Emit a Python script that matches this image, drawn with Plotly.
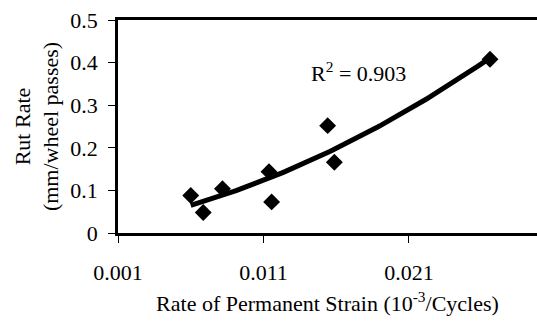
import numpy as np
import plotly.graph_objects as go

# Data
strain_rate = [0.0060, 0.00686, 0.00818, 0.01138, 0.01156, 0.01541, 0.01587, 0.02657]
rut_rate = [0.088, 0.048, 0.104, 0.144, 0.073, 0.252, 0.166, 0.408]
x_ticks = [0.001, 0.011, 0.021]
x_tick_labels = ["0.001", "0.011", "0.021"]
y_ticks = [0, 0.1, 0.2, 0.3, 0.4, 0.5]
y_tick_labels = ["0", "0.1", "0.2", "0.3", "0.4", "0.5"]
r2_text = "R<sup>2</sup> = 0.903"

# Polynomial (order 2) trendline fitted to the data
coef = np.polyfit(strain_rate, rut_rate, 2)
xt = np.linspace(min(strain_rate), max(strain_rate), 100)
yt = np.polyval(coef, xt)

FONT = "Liberation Serif, Times New Roman, serif"
FS = 22

fig = go.Figure()
fig.add_trace(go.Scatter(x=xt, y=yt, mode="lines",
                         line=dict(color="black", width=5), showlegend=False,
                         hoverinfo="skip"))
fig.add_trace(go.Scatter(x=strain_rate, y=rut_rate, mode="markers",
                         marker=dict(symbol="diamond", size=13, color="black"),
                         showlegend=False))

fig.add_annotation(x=0.0175, y=0.378, xref="x", yref="y", text=r2_text,
                   showarrow=False, font=dict(family=FONT, size=FS, color="black"))

fig.update_layout(
    width=537, height=324,
    margin=dict(l=118, r=0, t=20, b=91),
    paper_bgcolor="white", plot_bgcolor="white",
    font=dict(family=FONT, size=FS, color="black"),
)
fig.update_xaxes(
    range=[0.001, 0.0298], tickvals=x_ticks, ticktext=x_tick_labels,
    showgrid=False, zeroline=False,
    showline=True, linecolor="black", linewidth=2.5, mirror=True,
    ticks="outside", ticklen=7, tickwidth=1, tickcolor="black",
    ticklabelstandoff=11,
    tickfont=dict(family=FONT, size=FS),
    title=dict(text="Rate of Permanent Strain (10<sup>-3</sup>/Cycles)", standoff=12,
               font=dict(family=FONT, size=FS)),
)
fig.update_yaxes(
    range=[0, 0.5], tickvals=y_ticks, ticktext=y_tick_labels,
    showgrid=False, zeroline=False,
    showline=True, linecolor="black", linewidth=2.5, mirror=False,
    ticks="outside", ticklen=7, tickwidth=1, tickcolor="black",
    ticklabelstandoff=6,
    tickfont=dict(family=FONT, size=FS),
    title=dict(text="Rut Rate<br>(mm/wheel passes)", standoff=6,
               font=dict(family=FONT, size=FS)),
)

fig.write_html("out.html")
